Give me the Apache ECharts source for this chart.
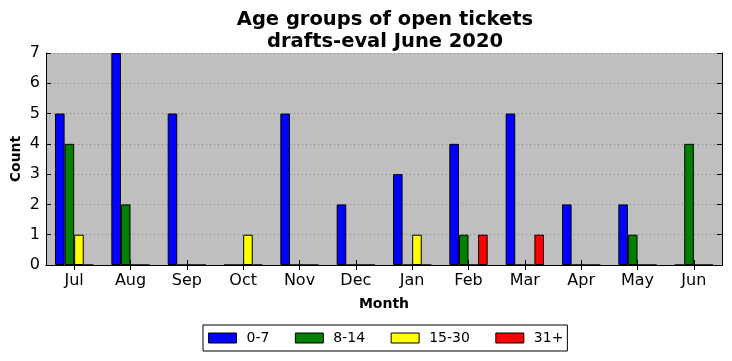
<!DOCTYPE html>
<html><head><meta charset="utf-8">
<script src="https://cdn.jsdelivr.net/npm/echarts@6/dist/echarts.min.js"></script>
<style>html,body{margin:0;padding:0;background:#fff}#c{width:732px;height:361px}</style>
</head><body><div id="c"></div>
<script>
const months = ['Jul','Aug','Sep','Oct','Nov','Dec','Jan','Feb','Mar','Apr','May','Jun'];
const age0_7   = [5,7,5,0,5,2,3,4,5,2,2,0];
const age8_14  = [4,2,0,0,0,0,0,1,0,0,1,4];
const age15_30 = [1,0,0,1,0,0,1,0,0,0,0,0];
const age31p   = [0,0,0,0,0,0,0,1,1,0,0,0];
const seriesNames = ['0-7','8-14','15-30','31+'];
const seriesColors = ['#0000ff','#008000','#ffff00','#ff0000'];
const yTicks = [0,1,2,3,4,5,6,7];

const font = 'DejaVu Sans';
const chart = echarts.init(document.getElementById('c'), null, {renderer:'canvas'});
const data = [age0_7, age8_14, age15_30, age31p];
chart.setOption({
  animation:false,
  backgroundColor:'#ffffff',
  title:{
    text:'Age groups of open tickets\ndrafts-eval June 2020',
    left:380, textAlign:'center', top:4,
    textStyle:{fontFamily:font,fontWeight:'bold',fontSize:19.5,lineHeight:22,color:'#000'}
  },
  legend:{
    data:seriesNames,
    bottom:10, left:203,
    orient:'horizontal',
    icon:'rect',
    itemWidth:28, itemHeight:10, itemGap:25.5,
    borderColor:'#000', borderWidth:1, borderRadius:0,
    padding:[6,4,6,5],
    backgroundColor:'#fff',
    textStyle:{fontFamily:font,fontSize:14,color:'#000',padding:[0,0,0,5]},
    itemStyle:{borderColor:'#000',borderWidth:1}
  },
  grid:{left:46,right:10,top:53,bottom:96,containLabel:false,outerBoundsMode:'none',show:true,backgroundColor:'#bfbfbf',borderWidth:0},
  xAxis:[{
    type:'category', data:months, boundaryGap:true,
    name:'Month', nameLocation:'middle', nameGap:32,
    nameTextStyle:{fontFamily:font,fontWeight:'bold',fontSize:14,color:'#000'},
    axisLine:{show:true,lineStyle:{color:'#000',width:1}},
    axisTick:{show:true,inside:true,length:5,alignWithLabel:true,lineStyle:{color:'#000'}},
    axisLabel:{fontFamily:font,fontSize:16,color:'#000',margin:8},
    splitLine:{show:false}
  },{
    type:'category', data:months, boundaryGap:true, position:'top',
    axisLine:{show:true,lineStyle:{color:'#000',width:1}},
    axisTick:{show:true,inside:true,length:5,alignWithLabel:true,lineStyle:{color:'#000'}},
    axisLabel:{show:false}, splitLine:{show:false}
  }],
  yAxis:[{
    type:'value', min:0, max:7, interval:1,
    name:'Count', nameLocation:'middle', nameGap:23, nameRotate:90, nameMoveOverlap:false,
    nameTextStyle:{fontFamily:font,fontWeight:'bold',fontSize:14,color:'#000'},
    axisLine:{show:true,lineStyle:{color:'#000',width:1}},
    axisTick:{show:true,inside:true,length:5,lineStyle:{color:'#000'}},
    axisLabel:{fontFamily:font,fontSize:16,color:'#000',margin:6,formatter:v=>yTicks.includes(v)?String(v):''},
    splitLine:{show:true,lineStyle:{color:'#7f7f7f',type:[1,3],width:1}}
  },{
    type:'value', min:0, max:7, interval:1, position:'right',
    axisLine:{show:true,lineStyle:{color:'#000',width:1}},
    axisTick:{show:true,inside:true,length:5,lineStyle:{color:'#000'}},
    axisLabel:{show:false}, splitLine:{show:false}
  }],
  series: seriesNames.map((n,i)=>({
    name:n, type:'bar', data:data[i], xAxisIndex:0, yAxisIndex:0,
    barGap:'0%', barCategoryGap:'32%',
    itemStyle:{color:seriesColors[i],borderColor:'#000',borderWidth:1}
  }))
});
</script></body></html>
